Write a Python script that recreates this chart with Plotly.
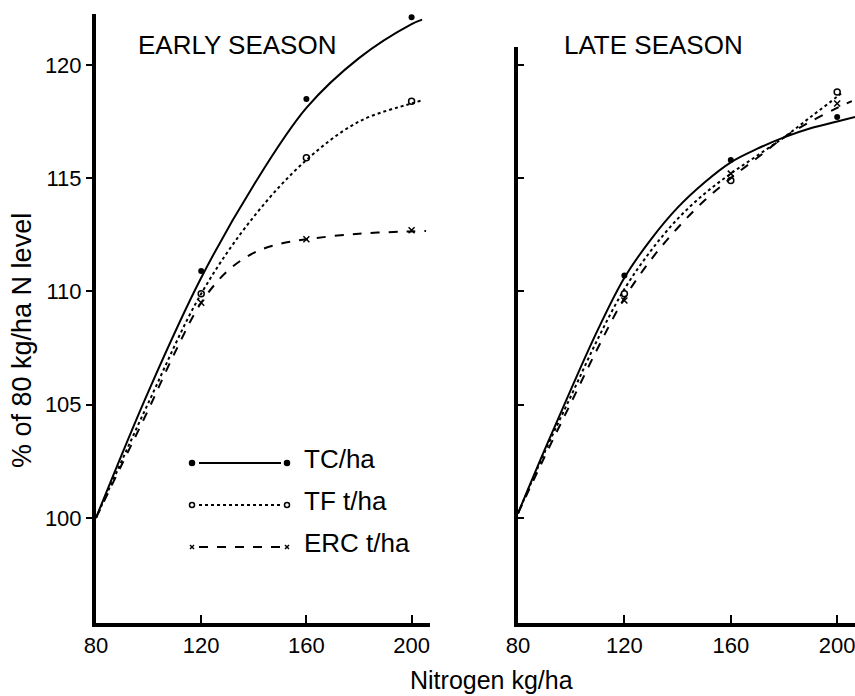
import plotly.graph_objects as go

# ---------------- data ----------------
N_POINTS = [120, 160, 200]

early_tc_pts = [110.9, 118.5, 122.1]
early_tf_pts = [109.9, 115.9, 118.4]
early_erc_pts = [109.5, 112.3, 112.7]

late_tc_pts = [110.7, 115.8, 117.7]
late_tf_pts = [109.9, 114.9, 118.8]
late_erc_pts = [109.6, 115.2, 118.3]

# fitted curves
early_tc_cx = [80, 100, 120, 140, 160, 180, 200, 204]
early_tc_cy = [100, 105.6, 110.6, 114.7, 118.1, 120.3, 121.8, 122.0]
early_tf_cx = [80, 100, 120, 140, 160, 180, 200, 204.5]
early_tf_cy = [100, 105.1, 109.9, 113.3, 115.8, 117.5, 118.3, 118.45]
early_erc_cx = [80, 90, 100, 110, 120, 130, 140, 150, 160, 180, 200, 205.5]
early_erc_cy = [100, 102.4, 104.8, 107.3, 109.5, 110.9, 111.7, 112.1, 112.3, 112.55, 112.65, 112.67]

late_tc_cx = [80, 90, 100, 110, 120, 130, 140, 150, 160, 170, 180, 190, 200, 206.7]
late_tc_cy = [100.2, 103.0, 105.7, 108.3, 110.6, 112.3, 113.7, 114.8, 115.7, 116.3, 116.8, 117.2, 117.5, 117.7]
late_tf_cx = [80, 90, 100, 110, 120, 130, 140, 150, 160, 170, 180, 190, 200, 202]
late_tf_cy = [100.2, 102.9, 105.4, 107.9, 110.1, 111.8, 113.2, 114.3, 115.2, 116.0, 116.8, 117.7, 118.6, 118.8]
late_erc_cx = [80, 90, 100, 110, 120, 130, 140, 150, 160, 170, 180, 190, 200, 205.5]
late_erc_cy = [100.2, 102.7, 105.1, 107.5, 109.7, 111.4, 112.8, 114.0, 115.0, 115.9, 116.8, 117.5, 118.1, 118.4]

Y_TICKS = [100, 105, 110, 115, 120]
X_TICKS = [80, 120, 160, 200]

FONT = "Liberation Sans, Arial, sans-serif"
W, H = 855, 696
ML, MR, MT, MB = 96, 0, 14, 73
PW, PH = W - ML - MR, H - MT - MB


def px(x):
    return (x - ML) / PW


def py(y):
    return (H - MB - y) / PH


fig = go.Figure()

styles = {
    "TC": dict(dash="solid", symbol="circle", mcolor="black", mline=0),
    "TF": dict(dash="dot", symbol="circle-open", mcolor="black", mline=1.5),
    "ERC": dict(dash="dash", symbol="x-thin-open", mcolor="black", mline=1.5),
}


def add_series(xa, ya, cx, cy, pts, key):
    st = styles[key]
    fig.add_trace(go.Scatter(
        x=cx, y=cy, mode="lines", xaxis=xa, yaxis=ya,
        line=dict(color="black", width=2, dash=st["dash"], shape="spline", smoothing=1.0),
        showlegend=False, hoverinfo="skip"))
    fig.add_trace(go.Scatter(
        x=N_POINTS, y=pts, mode="markers", xaxis=xa, yaxis=ya,
        marker=dict(symbol=st["symbol"], size=6, color=st["mcolor"],
                    line=dict(color="black", width=st["mline"])),
        showlegend=False))


add_series("x", "y", early_tc_cx, early_tc_cy, early_tc_pts, "TC")
add_series("x", "y", early_tf_cx, early_tf_cy, early_tf_pts, "TF")
add_series("x", "y", early_erc_cx, early_erc_cy, early_erc_pts, "ERC")
add_series("x2", "y2", late_tc_cx, late_tc_cy, late_tc_pts, "TC")
add_series("x2", "y2", late_tf_cx, late_tf_cy, late_tf_pts, "TF")
add_series("x2", "y2", late_erc_cx, late_erc_cy, late_erc_pts, "ERC")

YMIN = 95.36
PX_PER_UNIT = 22.65
ymax_left = YMIN + PH / PX_PER_UNIT
right_top_px = 47
ydom2_top = (H - MB - right_top_px) / PH
ymax_right = YMIN + (H - MB - right_top_px) / PX_PER_UNIT

axis_common = dict(showgrid=False, zeroline=False, showline=True, linecolor="black",
                   linewidth=4, tickcolor="black", tickwidth=2,
                   tickfont=dict(family=FONT, size=22, color="black"))

fig.update_layout(
    width=W, height=H,
    margin=dict(l=ML, r=MR, t=MT, b=MB),
    paper_bgcolor="white", plot_bgcolor="white",
    font=dict(family=FONT, color="black"),
    xaxis=dict(domain=[0, px(430)], range=[80, 207], tickvals=X_TICKS,
               ticks="inside", ticklen=8, anchor="y", **axis_common),
    yaxis=dict(domain=[0, 1], range=[YMIN, ymax_left], tickvals=Y_TICKS,
               ticks="outside", ticklen=6, anchor="x", **axis_common),
    xaxis2=dict(domain=[px(518), 1], range=[80, 206.7], tickvals=X_TICKS,
                ticks="inside", ticklen=8, anchor="y2", ticklabeloverflow="allow",
                **axis_common),
    yaxis2=dict(domain=[0, ydom2_top], range=[YMIN, ymax_right], tickvals=Y_TICKS,
                ticks="inside", ticklen=6, showticklabels=False, anchor="x2", **axis_common),
    showlegend=False,
)

# panel titles and axis titles
ann = [
    dict(text="EARLY SEASON", x=px(237), y=py(45), size=26),
    dict(text="LATE SEASON", x=px(653), y=py(45), size=26),
]
for a in ann:
    fig.add_annotation(text=a["text"], x=a["x"], y=a["y"], xref="paper", yref="paper",
                       showarrow=False, xanchor="center", yanchor="middle",
                       font=dict(family=FONT, size=a["size"], color="black"))
fig.add_annotation(text="Nitrogen kg/ha", x=px(491), y=py(695), xref="paper", yref="paper",
                   showarrow=False, xanchor="center", yanchor="bottom", borderpad=0,
                   font=dict(family=FONT, size=25, color="black"))
fig.add_annotation(text="% of 80 kg/ha N level", x=px(22), y=py(341), xref="paper", yref="paper",
                   showarrow=False, textangle=-90, xanchor="center", yanchor="middle",
                   font=dict(family=FONT, size=27, color="black"))

# hand-drawn style legend key
legend_rows = [("TC/ha", "TC", 463), ("TF t/ha", "TF", 505), ("ERC t/ha", "ERC", 547)]
for label, key, ry in legend_rows:
    st = styles[key]
    fig.add_shape(type="line", xref="paper", yref="paper",
                  x0=px(199), x1=px(281), y0=py(ry), y1=py(ry),
                  line=dict(color="black", width=2, dash=st["dash"]))
    for mx in (192, 287):
        if key == "ERC":
            fig.add_shape(type="line", xref="paper", yref="paper",
                          x0=px(mx - 2), x1=px(mx + 2), y0=py(ry - 2), y1=py(ry + 2),
                          line=dict(color="black", width=1.5))
            fig.add_shape(type="line", xref="paper", yref="paper",
                          x0=px(mx - 2), x1=px(mx + 2), y0=py(ry + 2), y1=py(ry - 2),
                          line=dict(color="black", width=1.5))
        else:
            fig.add_shape(type="circle", xref="paper", yref="paper",
                          x0=px(mx - 2.5), x1=px(mx + 2.5), y0=py(ry + 2.5), y1=py(ry - 2.5),
                          line=dict(color="black", width=1.5),
                          fillcolor="black" if key == "TC" else "white")
    fig.add_annotation(text=label, x=px(302), y=py(ry - 4), xref="paper", yref="paper",
                       showarrow=False, xanchor="left", yanchor="middle",
                       font=dict(family=FONT, size=26, color="black"))

fig.write_html("out.html")
